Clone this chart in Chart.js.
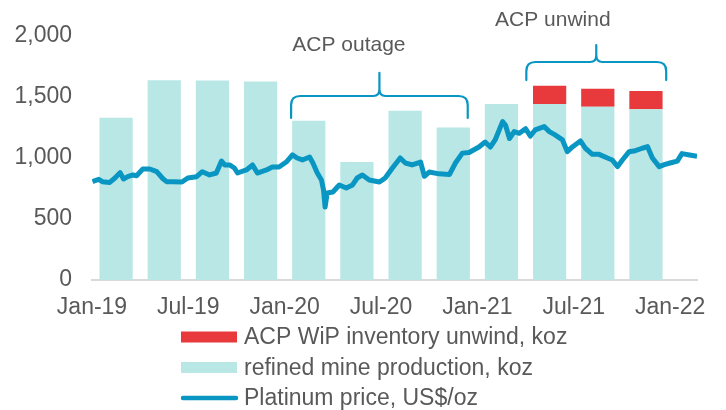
<!DOCTYPE html>
<html>
<head>
<meta charset="utf-8">
<script src="https://cdn.jsdelivr.net/npm/chart.js@4"></script>
<style>
  html, body { margin: 0; padding: 0; background: #fff; }
</style>
</head>
<body>
<canvas id="myChart" width="726" height="410"></canvas>
<script>
// quarterly bars
const quarters = ['Q1-19', 'Q2-19', 'Q3-19', 'Q4-19', 'Q1-20', 'Q2-20', 'Q3-20', 'Q4-20', 'Q1-21', 'Q2-21', 'Q3-21', 'Q4-21'];
const refinedProduction = [1330, 1638, 1635, 1628, 1306, 967, 1388, 1251, 1443, 1443, 1421, 1399];
const wipUnwind = [0, 0, 0, 0, 0, 0, 0, 0, 0, 150, 147, 150];

// platinum price
const priceDates = [
  '2019-01-02', '2019-01-07', '2019-01-14', '2019-01-21', '2019-02-04', '2019-02-13', '2019-02-22', '2019-02-28',
  '2019-03-08', '2019-03-18', '2019-03-25', '2019-04-06', '2019-04-19', '2019-05-02', '2019-05-14', '2019-05-21',
  '2019-06-02', '2019-06-19', '2019-06-30', '2019-07-17', '2019-07-28', '2019-08-11', '2019-08-24', '2019-09-03',
  '2019-09-09', '2019-09-18', '2019-09-27', '2019-10-03', '2019-10-20', '2019-11-01', '2019-11-10', '2019-11-27',
  '2019-12-08', '2019-12-21', '2020-01-04', '2020-01-16', '2020-01-25', '2020-02-04', '2020-02-17', '2020-02-23',
  '2020-03-02', '2020-03-10', '2020-03-14', '2020-03-17', '2020-03-21', '2020-04-01', '2020-04-13', '2020-04-26',
  '2020-05-08', '2020-05-17', '2020-05-27', '2020-06-09', '2020-06-28', '2020-07-09', '2020-07-23', '2020-08-07',
  '2020-08-17', '2020-08-30', '2020-09-15', '2020-09-22', '2020-10-01', '2020-10-20', '2020-11-09', '2020-11-20',
  '2020-12-03', '2020-12-16', '2021-01-04', '2021-01-16', '2021-01-26', '2021-02-04', '2021-02-17', '2021-02-22',
  '2021-03-01', '2021-03-10', '2021-03-20', '2021-04-01', '2021-04-10', '2021-04-19', '2021-05-06', '2021-05-16',
  '2021-05-27', '2021-06-10', '2021-06-19', '2021-06-29', '2021-07-14', '2021-07-23', '2021-08-06', '2021-08-19',
  '2021-09-04', '2021-09-13', '2021-09-23', '2021-10-02', '2021-10-15', '2021-10-27', '2021-11-09', '2021-11-19',
  '2021-11-28', '2021-12-11', '2021-12-21', '2022-01-01', '2022-01-15', '2022-01-24', '2022-02-07', '2022-02-20'
];
const priceValues = [
  806, 815, 825, 806, 800, 836, 880, 828,
  847, 861, 855, 910, 910, 888, 830, 806,
  806, 803, 836, 847, 888, 861, 877, 975,
  943, 943, 918, 877, 902, 943, 877, 902,
  926, 926, 967, 1025, 1000, 984, 1008, 959,
  877, 820, 738, 598, 713, 721, 779, 754,
  779, 836, 861, 820, 803, 836, 918, 1000,
  959, 943, 967, 850, 885, 870, 865, 959,
  1040, 1045, 1090, 1131, 1090, 1148, 1298, 1270,
  1160, 1216, 1202, 1240, 1180, 1230, 1257, 1216,
  1189, 1148, 1052, 1093, 1140, 1082, 1030, 1030,
  1000, 984, 929, 984, 1052, 1060, 1080, 1093,
  1000, 929, 945, 959, 975, 1036, 1025, 1015
];

const tickLabels = ['Jan-19', 'Jul-19', 'Jan-20', 'Jul-20', 'Jan-21', 'Jul-21', 'Jan-22'];

const textColor = '#595959';
const fontFamily = "'Liberation Sans', Arial, sans-serif";

function monthsSince2019(s) {
  const [y, m, d] = s.split('-').map(Number);
  const dim = new Date(y, m, 0).getDate();
  return (y - 2019) * 12 + (m - 1) + (d - 1) / dim;
}

const quarterMid = quarters.map((q, i) => i * 3 + 1.5);
const xMax = monthsSince2019(priceDates[priceDates.length - 1]);

// brace annotations, in data units
const braces = [
  { from: 12.4, to: 23.4, level: 1508, drop: 1328, tip: 1697, label: 'ACP outage', labelX: 16.0, labelY: 1926 },
  { from: 27.05, to: 35.76, level: 1787, drop: 1639, tip: 1926, label: 'ACP unwind', labelX: 28.7, labelY: 2131 }
];

const bracePlugin = {
  id: 'braces',
  afterDatasetsDraw(chart) {
    const { ctx, scales: { x, y } } = chart;
    ctx.save();
    ctx.strokeStyle = '#0A96C2';
    ctx.lineWidth = 2.2;
    ctx.lineCap = 'round';
    ctx.lineJoin = 'round';
    braces.forEach(b => {
      const x1 = x.getPixelForValue(b.from);
      const x2 = x.getPixelForValue(b.to);
      const xm = (x1 + x2) / 2;
      const yl = y.getPixelForValue(b.level);
      const yd = y.getPixelForValue(b.drop);
      const yt = y.getPixelForValue(b.tip);
      const r = 9;
      ctx.beginPath();
      ctx.moveTo(x1, yd);
      ctx.lineTo(x1, yl + r);
      ctx.quadraticCurveTo(x1, yl, x1 + r, yl);
      ctx.lineTo(xm - 6, yl);
      ctx.quadraticCurveTo(xm, yl, xm, yl - 7);
      ctx.lineTo(xm, yt);
      ctx.moveTo(xm, yl - 7);
      ctx.quadraticCurveTo(xm, yl, xm + 6, yl);
      ctx.lineTo(x2 - r, yl);
      ctx.quadraticCurveTo(x2, yl, x2, yl + r);
      ctx.lineTo(x2, yd);
      ctx.stroke();

      ctx.fillStyle = textColor;
      ctx.font = '21px ' + fontFamily;
      ctx.textAlign = 'center';
      ctx.textBaseline = 'middle';
      ctx.fillText(b.label, x.getPixelForValue(b.labelX), y.getPixelForValue(b.labelY));
    });
    ctx.restore();
  }
};

// legend stacked in rows under the x axis
const legendPlugin = {
  id: 'rowLegend',
  afterDraw(chart) {
    const ctx = chart.ctx;
    const items = [chart.data.datasets[1], chart.data.datasets[0], chart.data.datasets[2]];
    ctx.save();
    ctx.font = '23px ' + fontFamily;
    ctx.textBaseline = 'middle';
    ctx.textAlign = 'left';
    items.forEach((ds, i) => {
      const yc = 337 + i * 30.5;
      if (ds.type === 'line') {
        ctx.strokeStyle = ds.borderColor;
        ctx.lineWidth = 4.5;
        ctx.lineCap = 'round';
        ctx.beginPath();
        ctx.moveTo(183, yc);
        ctx.lineTo(236, yc);
        ctx.stroke();
      } else {
        ctx.fillStyle = ds.backgroundColor;
        ctx.fillRect(181, yc - 5.5, 56, 11);
      }
      ctx.fillStyle = textColor;
      ctx.fillText(ds.label, 244, yc + 1);
    });
    ctx.restore();
  }
};

const ctx = document.getElementById('myChart').getContext('2d');
const myChart = new Chart(ctx, {
  data: {
    datasets: [
      {
        type: 'bar',
        label: 'refined mine production, koz',
        data: quarterMid.map((m, i) => ({ x: m, y: refinedProduction[i] })),
        backgroundColor: '#B8E7E5',
        stack: 'supply',
        order: 1,
        barPercentage: 0.69,
        categoryPercentage: 1
      },
      {
        type: 'bar',
        label: 'ACP WiP inventory unwind, koz',
        data: quarterMid.map((m, i) => ({ x: m, y: wipUnwind[i] })),
        backgroundColor: '#E8393D',
        stack: 'supply',
        order: 2,
        barPercentage: 0.69,
        categoryPercentage: 1
      },
      {
        type: 'line',
        label: 'Platinum price, US$/oz',
        data: priceDates.map((d, i) => ({ x: monthsSince2019(d), y: priceValues[i] })),
        borderColor: '#0A96C2',
        borderWidth: 5,
        pointRadius: 0,
        tension: 0,
        borderJoinStyle: 'round',
        order: 0
      }
    ]
  },
  options: {
    responsive: false,
    animation: false,
    devicePixelRatio: 1,
    layout: { padding: { top: 36, right: 29, left: 0, bottom: 0 } },
    plugins: {
      legend: { display: false },
      tooltip: { enabled: false }
    },
    scales: {
      x: {
        type: 'linear',
        min: 0,
        max: xMax,
        offset: false,
        grid: { display: false, drawTicks: false },
        border: { display: true, color: '#D9D9D9', width: 2 },
        afterFit(scale) { scale.height = 130; },
        afterBuildTicks(scale) {
          scale.ticks = tickLabels.map((t, i) => ({ value: i * 6 }));
        },
        ticks: {
          padding: 14,
          color: textColor,
          font: { family: fontFamily, size: 23 },
          maxRotation: 0,
          autoSkip: false,
          callback: (v) => tickLabels[Math.round(v / 6)]
        }
      },
      y: {
        min: 0,
        max: 2000,
        grid: { display: false, drawTicks: false },
        border: { display: false },
        afterFit(scale) { scale.width = 92; },
        ticks: {
          stepSize: 500,
          padding: 20,
          color: textColor,
          font: { family: fontFamily, size: 23 },
          callback: (v) => v.toLocaleString('en-US')
        }
      }
    }
  },
  plugins: [bracePlugin, legendPlugin]
});
</script>
</body>
</html>
